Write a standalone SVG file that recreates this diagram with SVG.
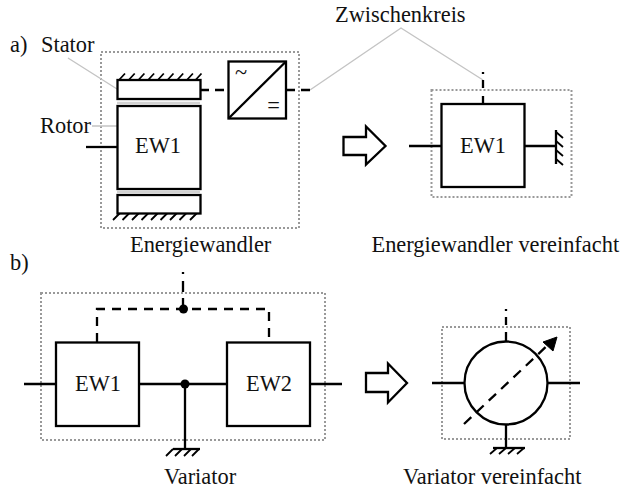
<svg xmlns="http://www.w3.org/2000/svg" width="623" height="489" viewBox="0 0 623 489">
<defs><style>
text{font-family:"Liberation Serif","Times New Roman",serif;font-size:22.4px;fill:#111}
.l{fill:none;stroke:#000;stroke-width:2.3}
.b{fill:#fff;stroke:#000;stroke-width:2.3}
.d{fill:none;stroke:#000;stroke-width:2.3;stroke-dasharray:9 7}
.h{fill:none;stroke:#000;stroke-width:1.8}
.g{fill:none;stroke:#c4c4c4;stroke-width:1.4}
.gt{fill:none;stroke:#d2d2d2;stroke-width:2.4}
.box{fill:none;stroke:#999;stroke-width:2;stroke-dasharray:2 2}
</style></defs>
<g id="frames">
<rect class="box" x="101" y="52" width="198" height="176"/>
<rect class="box" x="431.500" y="90" width="140" height="107"/>
<rect class="box" x="41" y="293" width="284" height="147"/>
<rect class="box" x="442" y="327" width="128" height="112"/>
</g>
<g id="connectors">
<path class="g" d="M68 58L117 89M92 126H117M310 90L401 28L483 80"/>
<path class="l" d="M86 147H117"/>
<path class="l" d="M201 90H209M215 90H224M287 90H295M301 90H310"/>
<path class="l" d="M483 72V74M483 80V88M483 96V104"/>
<path class="l" d="M409 146H441M525 146H557"/>
<path class="l" d="M24 384H56M140 384H227M311 384H342M185 384V449"/>
<path class="l" d="M183 272V274M183 281V292M183 298V309"/>
<path class="d" d="M97 342V309H269V342"/>
<circle cx="183.500" cy="309" r="4.500" fill="#000"/>
<circle cx="185" cy="384" r="4.500" fill="#000"/>
<path class="l" d="M432 383H464M548 383H580M506 341V332M506 325V317M506 311V309M506 425V448"/>
<path class="l" d="M464 424L550 343" stroke-dasharray="10 7"/>
<path d="M557 337L543 342L553 351Z" fill="#000" stroke="#000" stroke-width="1"/>
<path class="h" d="M119 80L125 73.500M128.700 80L134.700 73.500M138.400 80L144.400 73.500M148.100 80L154.100 73.500M157.800 80L163.800 73.500M167.500 80L173.500 73.500M177.200 80L183.200 73.500M186.900 80L192.900 73.500M195.500 80L201.500 73.500"/>
<path class="h" d="M113 220L120 213M122.500 220L129.500 213M132 220L139 213M141.500 220L148.500 213M151 220L158 213M160.500 220L167.500 213M170 220L177 213M179.500 220L186.500 213M190 220L197 213"/>
<path class="l" d="M556 130V164"/>
<path class="h" d="M556 132L563 138M556 141L563 147M556 150L563 156M556 159L563 165"/>
<path class="l" d="M173 449H200"/>
<path class="h" d="M166 456L173 449M175 456L182 449M184 456L191 449M192 456L199 449"/>
<path class="l" d="M493 448H525"/>
<path class="h" d="M490 454L497 448M499 454L506 448M508 454L515 448M517 454L524 448"/>
</g>
<g id="stator-top"><rect class="b" x="117.500" y="80" width="83" height="19"/></g>
<g id="rotor"><rect class="b" x="117.500" y="106" width="83" height="83"/><text x="135" y="153">EW1</text></g>
<g id="stator-bottom"><rect class="b" x="117.500" y="195" width="83" height="18.500"/></g>
<g id="airgaps"><path class="gt" d="M117 103H200M117 192H200"/></g>
<g id="converter"><rect class="b" x="228.500" y="61.500" width="57.500" height="57"/><path class="l" d="M228.500 118.500L286 61.500"/><text x="241" y="79.500" text-anchor="middle">~</text><text x="273.500" y="113" text-anchor="middle">=</text></g>
<g id="ew1-simple"><rect class="b" x="441.500" y="104" width="83" height="83"/><text x="460" y="152.500">EW1</text></g>
<g id="var-ew1"><rect class="b" x="56" y="342.500" width="83" height="83.500"/><text x="75" y="390.500">EW1</text></g>
<g id="var-ew2"><rect class="b" x="227" y="342.500" width="83" height="83.500"/><text x="246" y="390.500">EW2</text></g>
<g id="var-simple"><circle cx="506" cy="383" r="41.500" fill="none" stroke="#000" stroke-width="2.300"/></g>
<g id="arrows">
<path class="b" d="M343.500 137H366V126.500L385.500 146L366 164.500V155H343.500Z"/>
<path class="b" d="M366 373H388V363.500L407 383L388 402.500V392H366Z"/>
</g>
<g id="labels">
<text x="10" y="52">a)</text>
<text x="41" y="52">Stator</text>
<text x="40" y="133">Rotor</text>
<text x="335" y="22">Zwischenkreis</text>
<text x="130" y="252">Energiewandler</text>
<text x="371.500" y="252">Energiewandler vereinfacht</text>
<text x="10" y="270">b)</text>
<text x="164" y="484">Variator</text>
<text x="403" y="484">Variator vereinfacht</text>
</g>
</svg>
